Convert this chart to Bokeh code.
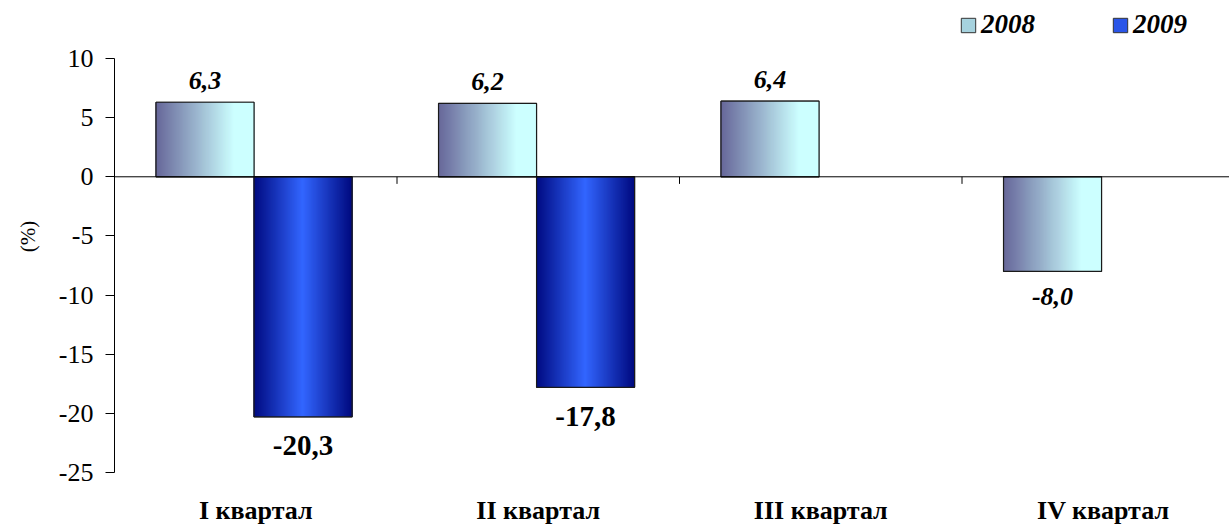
from bokeh.plotting import figure
from bokeh.models import Range1d, FixedTicker, Span, Legend, LegendItem, CustomJSTickFormatter
from bokeh.core.properties import value
from bokeh.embed import file_html
from bokeh.resources import INLINE

# ---- data ----
categories = ["I квартал", "II квартал", "III квартал", "IV квартал"]
series_names = ["2008", "2009"]
values_2008 = [6.3, 6.2, 6.4, -8.0]
values_2009 = [-20.3, -17.8, None, None]
labels_2008 = ["6,3", "6,2", "6,4", "-8,0"]
labels_2009 = ["-20,3", "-17,8", "", ""]
y_ticks = [-25, -20, -15, -10, -5, 0, 5, 10]
y_tick_labels = ["-25", "-20", "-15", "-10", "-5", "0", "5", "10"]

FONT = "Liberation Serif"
BAR_W = 0.347
N_STRIPS = 98

# layout (pixels)
W, H = 1229, 528
FRAME_LEFT = 114
FRAME_BOTTOM_PAD = 56
PX_PER_UNIT = 414 / 35.0
Y_TOP = y_ticks[-1] + 58 / PX_PER_UNIT
X_END = (W - FRAME_LEFT) / 282.5
X_SHIFT = -0.006


def hex2rgb(h):
    h = h.lstrip("#")
    return tuple(int(h[i:i + 2], 16) for i in (0, 2, 4))


def mix(c1, c2, t):
    a, b = hex2rgb(c1), hex2rgb(c2)
    return "#%02x%02x%02x" % tuple(int(round(a[i] + (b[i] - a[i]) * t)) for i in range(3))


def grad_2008(t):
    return mix("#666699", "#ccffff", min(t / 0.8, 1.0))


def grad_2009(t):
    return mix("#3366ff", "#000a80", abs(2 * t - 1))


p = figure(width=W, height=H, output_backend="svg", toolbar_location=None,
           x_range=Range1d(0, X_END), y_range=Range1d(y_ticks[0], Y_TOP),
           min_border_left=FRAME_LEFT, min_border_right=0, min_border_top=0,
           min_border_bottom=FRAME_BOTTOM_PAD)
p.outline_line_color = None
p.grid.visible = False
p.background_fill_color = "white"

series = [(values_2008, grad_2008, -BAR_W / 2, "#a6d2de"), (values_2009, grad_2009, BAR_W / 2, "#2a55e8")]

# base bars (solid, used by the legend; covered by the gradient strips)
legend_renderers = []
for vals, grad, off, solid in series:
    bx = [i + 0.5 + off + X_SHIFT for i, v in enumerate(vals) if v is not None]
    bt = [v for v in vals if v is not None]
    legend_renderers.append(p.vbar(x=bx, top=bt, bottom=0, width=BAR_W, fill_color=solid, line_color="#333333"))

# gradient strips
sx, stop, scol = [], [], []
ox, otop = [], []
for vals, grad, off, solid in series:
    for i, v in enumerate(vals):
        if v is None:
            continue
        c = i + 0.5 + off + X_SHIFT
        left = c - BAR_W / 2
        for j in range(N_STRIPS):
            t = (j + 0.5) / N_STRIPS
            sx.append(left + t * BAR_W)
            stop.append(v)
            scol.append(grad(t))
        ox.append(c)
        otop.append(v)

strip_w = BAR_W / N_STRIPS
p.vbar(x=sx, top=stop, bottom=0, width=strip_w * 2.0, fill_color=scol, line_color=None)
p.vbar(x=ox, top=otop, bottom=0, width=BAR_W, fill_alpha=0, line_color="#1a1a1a", line_width=1.2)

# zero line and separators
p.add_layout(Span(location=0, dimension="width", line_color="#000000", line_width=1))
bounds = list(range(1, len(categories)))
p.segment(x0=bounds, y0=[0] * len(bounds), x1=bounds, y1=[-0.6] * len(bounds),
          line_color="#000000", line_width=1)

# data labels 2008
pos = [(i, v) for i, v in enumerate(values_2008) if v >= 0]
neg = [(i, v) for i, v in enumerate(values_2008) if v < 0]
p.text(x=[i + 0.5 - BAR_W / 2 + X_SHIFT for i, v in pos], y=[v for i, v in pos],
       text=[labels_2008[i] for i, v in pos],
       text_align="center", text_baseline="alphabetic", y_offset=-22,
       text_font=value(FONT), text_font_style="bold italic", text_font_size="26px", text_color="black")
p.text(x=[i + 0.5 - BAR_W / 2 + X_SHIFT for i, v in neg], y=[v for i, v in neg],
       text=[labels_2008[i] for i, v in neg],
       text_align="center", text_baseline="alphabetic", y_offset=25,
       text_font=value(FONT), text_font_style="bold italic", text_font_size="26px", text_color="black")
# data labels 2009
n9 = [(i, v) for i, v in enumerate(values_2009) if v is not None]
p.text(x=[i + 0.5 + BAR_W / 2 + X_SHIFT for i, v in n9], y=[v for i, v in n9],
       text=[labels_2009[i] for i, v in n9],
       text_align="center", text_baseline="alphabetic", y_offset=29,
       text_font=value(FONT), text_font_style="bold", text_font_size="29px", text_color="black")

# y axis
yax = p.yaxis[0]
yax.bounds = (y_ticks[0], y_ticks[-1])
yax.ticker = FixedTicker(ticks=y_ticks)
yax.formatter = CustomJSTickFormatter(args=dict(yt=y_ticks, yl=y_tick_labels),
                                      code="const k = yt.indexOf(tick); return k >= 0 ? yl[k] : String(tick);")
yax.axis_line_color = "black"
yax.major_tick_line_color = "black"
yax.major_tick_out = 9
yax.major_tick_in = 0
yax.minor_tick_line_color = None
yax.major_label_text_font = FONT
yax.major_label_text_font_size = "26px"
yax.major_label_text_color = "black"
yax.major_label_standoff = 12
yax.axis_label = "(%)"
yax.axis_label_text_font = FONT
yax.axis_label_text_font_size = "21px"
yax.axis_label_text_font_style = "normal"
yax.axis_label_text_color = "black"
yax.axis_label_standoff = 16

# x axis: category labels at bottom
xax = p.xaxis[0]
xax.ticker = FixedTicker(ticks=[i + 0.5 for i in range(len(categories))])
xax.major_label_overrides = {i + 0.5: c for i, c in enumerate(categories)}
xax.axis_line_color = None
xax.major_tick_line_color = None
xax.minor_tick_line_color = None
xax.major_label_text_font = FONT
xax.major_label_text_font_style = "bold"
xax.major_label_text_font_size = "26px"
xax.major_label_text_color = "black"
xax.major_label_standoff = 17

# legend (inside the top of the frame, above the 10 tick)
legend = Legend(items=[LegendItem(label=series_names[0], renderers=[legend_renderers[0]]),
                       LegendItem(label=series_names[1], renderers=[legend_renderers[1]])],
                orientation="horizontal", location=(845, 432),
                label_text_font=FONT, label_text_font_style="bold italic", label_text_font_size="27px",
                label_text_color="black", glyph_width=18, glyph_height=18, label_standoff=4, spacing=76,
                border_line_color=None, background_fill_alpha=0, padding=0, margin=0)
p.add_layout(legend, "center")

open("out.html", "w").write(file_html(p, INLINE))
